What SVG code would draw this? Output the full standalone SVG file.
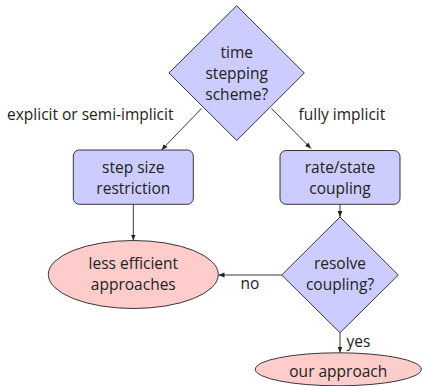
<svg xmlns="http://www.w3.org/2000/svg" width="422" height="386" viewBox="0 0 422 386">
<style>
text{font-family:"Open Sans","Liberation Sans",sans-serif;font-size:15.5px;fill:#222;text-anchor:middle}
.lbl{text-anchor:start}
.blue{fill:#ccccff;stroke:#222;stroke-width:0.9}
.red{fill:#ffcccc;stroke:#222;stroke-width:0.9}
.edge{stroke:#222;stroke-width:0.9;fill:none;marker-end:url(#arr)}
</style>
<defs>
<marker id="arr" viewBox="0 0 6 6" refX="6" refY="3" markerWidth="6" markerHeight="6" markerUnits="userSpaceOnUse" orient="auto">
<path d="M0,0.6 L6,3 L0,5.4 Z" fill="#222"/>
</marker>
</defs>
<rect width="422" height="386" fill="#fff"/>
<g id="connectors">
<line class="edge" x1="201.5" y1="108.5" x2="161.5" y2="150"/>
<line class="edge" x1="271.5" y1="108.5" x2="311" y2="148.5"/>
<line class="edge" x1="133.3" y1="204.3" x2="133.3" y2="240.5"/>
<line class="edge" x1="340" y1="204.3" x2="340" y2="217"/>
<line class="edge" x1="281.7" y1="275" x2="218.5" y2="275"/>
<line class="edge" x1="340" y1="332.7" x2="340" y2="352.7"/>
<text class="lbl" x="7" y="120">explicit or semi-implicit</text>
<text class="lbl" x="298.5" y="120">fully implicit</text>
<text x="250" y="289">no</text>
<text class="lbl" x="346.5" y="346.5">yes</text>
</g>
<g id="time-stepping">
<polygon class="blue" points="236.7,5.7 304.3,73 236.7,140.5 169,73"/>
<text x="236.7" y="58">time</text>
<text x="236.7" y="79">stepping</text>
<text x="236.7" y="100">scheme?</text>
</g>
<g id="step-size">
<rect class="blue" x="73.3" y="150" width="120" height="54.3" rx="6"/>
<text x="133.3" y="173">step size</text>
<text x="133.3" y="193.5">restriction</text>
</g>
<g id="rate-state">
<rect class="blue" x="280" y="150.5" width="120" height="53.8" rx="6"/>
<text x="340" y="173">rate/state</text>
<text x="340" y="193.5">coupling</text>
</g>
<g id="less-efficient">
<ellipse class="red" cx="133.3" cy="274.5" rx="85" ry="34"/>
<text x="133.3" y="269">less efficient</text>
<text x="133.3" y="289.5">approaches</text>
</g>
<g id="resolve">
<polygon class="blue" points="340,217 398.3,275 340,332.7 281.7,275"/>
<text x="340" y="269">resolve</text>
<text x="340" y="289.5">coupling?</text>
</g>
<g id="our-approach">
<ellipse class="red" cx="338.3" cy="369.3" rx="83" ry="16.5"/>
<text x="338.3" y="376.5">our approach</text>
</g>
</svg>
